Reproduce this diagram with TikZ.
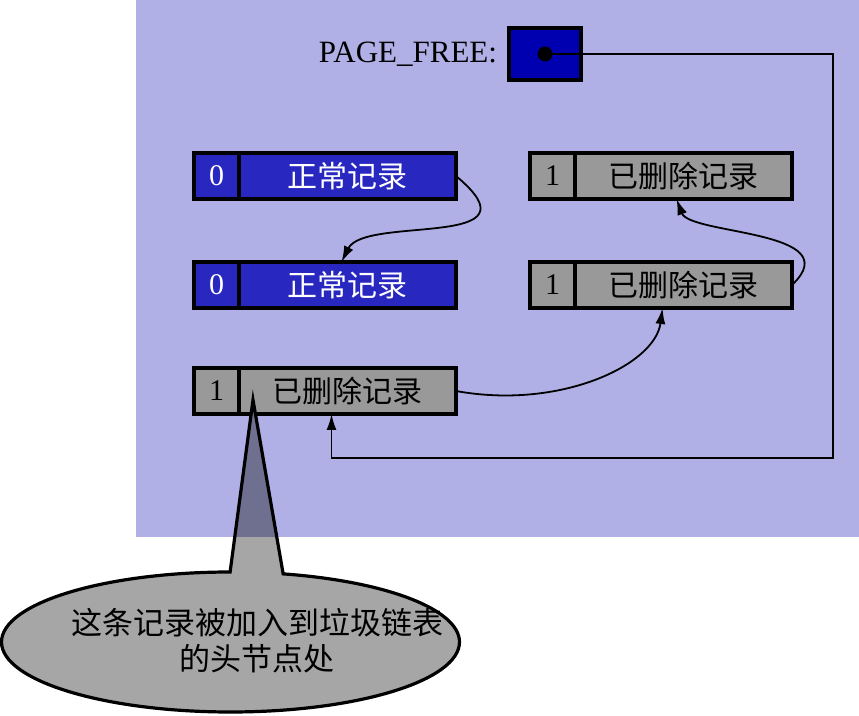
\documentclass[tikz,border=0pt]{standalone}
\usepackage{fontspec}
\setmainfont{Liberation Serif}
\newfontfamily\cjk{Noto Sans CJK SC}
\usetikzlibrary{arrows.meta,positioning}
\definecolor{pagebg}{RGB}{176,176,230}
\definecolor{normblue}{RGB}{40,40,192}
\definecolor{headblue}{RGB}{0,0,176}
\definecolor{delgray}{RGB}{153,153,153}
\definecolor{notegray}{RGB}{166,166,166}
\definecolor{notedark}{RGB}{111,111,143}

\begin{document}
\begin{tikzpicture}[x=1pt,y=1pt,
            every node/.style = {inner sep = 0pt,
                                 outer sep = 0pt},
            cell/.style       = {draw,
                                 line width = 3.2pt,
                                 minimum height = 46pt,
                                 font = \fontsize{30}{30}\selectfont},
            flag/.style       = {cell,
                                 minimum width = 45pt},
            body/.style       = {cell,
                                 minimum width = 217pt,
                                 font = \fontsize{30}{30}\selectfont\cjk},
            normal/.style     = {fill = normblue,
                                 text = white},
            deleted/.style    = {fill = delgray,
                                 text = black},
            link/.style       = {line width = 1.8pt,
                                 -{Latex[length=16pt,width=10pt]}}
            ]
            \useasboundingbox (0,0) rectangle (859,715);
            \fill[pagebg] (136,715) rectangle (859,178);

            % head pointer
            \node[draw, line width = 3.2pt, fill = headblue,
                  minimum width = 72pt, minimum height = 52pt] (free) at (545,661) {};
            \node[left = 12pt of free, font = \fontsize{31}{31}\selectfont] (freelbl) {PAGE\_FREE:};

            % records
            \node[flag, normal]  (n1flag) at (216.5,539) {0};
            \node[body, normal,  right = 0pt of n1flag] (n1) {正常记录};
            \node[flag, normal]  (n2flag) at (216.5,430) {0};
            \node[body, normal,  right = 0pt of n2flag] (n2) {正常记录};
            \node[flag, deleted] (d3flag) at (216.5,324) {1};
            \node[body, deleted, right = 0pt of d3flag] (d3) {已删除记录};
            \node[flag, deleted] (d1flag) at (552.5,539) {1};
            \node[body, deleted, right = 0pt of d1flag] (d1) {已删除记录};
            \node[flag, deleted] (d2flag) at (552.5,430) {1};
            \node[body, deleted, right = 0pt of d2flag] (d2) {已删除记录};

            % links
            \coordinate (loopcorner) at (833,257);
            \draw[link] (free.center) -| (loopcorner) -| ([xshift=-16pt]d3.south);
            \node[circle, fill = black, minimum size = 15pt] (freedot) at (free.center) {};
            \draw[link] (n1.east) .. controls (545,465) and (365,500) .. ([xshift=-6pt]n2.north);
            \draw[link] (d3.east) .. controls (560,305) and (655,350) .. ([xshift=-21pt]d2.south);
            \draw[link] (d2.east) .. controls (850,485) and (690,480) .. ([xshift=-7pt]d1.south);

            % callout
            \coordinate (tip) at ([xshift=14pt,yshift=14pt]d3.south west);
            \newcommand{\notepath}{(tip) -- (230.1,143)
                arc[start angle=90.1, end angle=436.7, x radius=229, y radius=70] -- cycle}
            \fill[notegray] \notepath;
            \begin{scope}
                \clip (136,715) rectangle (859,178);
                \fill[notedark] \notepath;
            \end{scope}
            \draw[line width = 3.2pt, line join = miter] \notepath;
            \node[align = center, font = \fontsize{31}{36}\selectfont\cjk] (note) at (257,74)
                {这条记录被加入到垃圾链表\\的头节点处};
\end{tikzpicture}
\end{document}
